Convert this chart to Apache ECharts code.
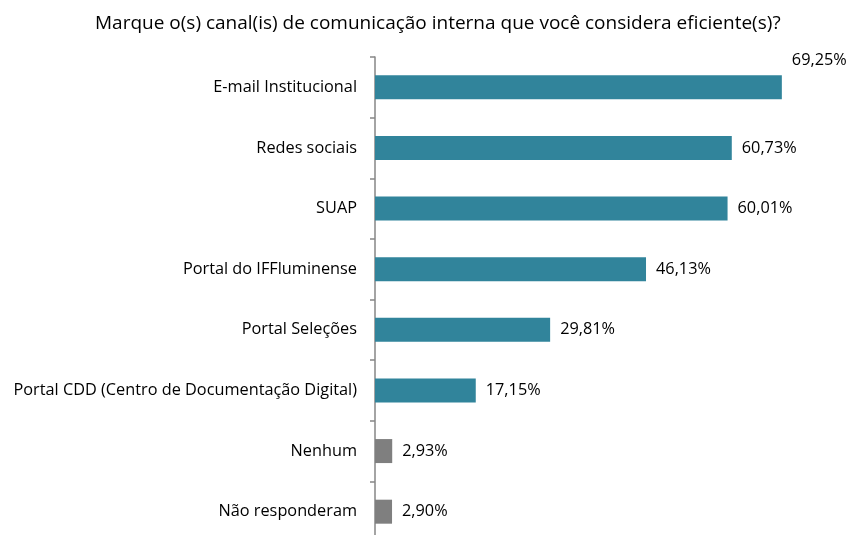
<!DOCTYPE html>
<html><head><meta charset="utf-8">
<script src="https://cdn.jsdelivr.net/npm/echarts@6/dist/echarts.min.js"></script>
<style>html,body{margin:0;padding:0;background:#fff;overflow:hidden}#c{width:850px;height:545px}</style>
</head><body><div id="c"></div>
<script>
const categories = ["E-mail Institucional","Redes sociais","SUAP","Portal do IFFluminense","Portal Seleções","Portal CDD (Centro de Documentação Digital)","Nenhum","Não responderam"];
const values = [69.25,60.73,60.01,46.13,29.81,17.15,2.93,2.90];
const barColors = ["#31849B","#31849B","#31849B","#31849B","#31849B","#31849B","#7F7F7F","#7F7F7F"];
const titleText = "Marque o(s) canal(is) de comunicação interna que você considera eficiente(s)?";
const FONT = "Open Sans";
const chart = echarts.init(document.getElementById('c'), null, {renderer:'canvas'});
chart.setOption({
  animation:false,
  title:{text:titleText,left:90,top:9,textStyle:{fontFamily:FONT,fontSize:19,fontWeight:'normal',color:'#000'}},
  grid:{left:375,top:57,right:5,height:485,containLabel:false},
  xAxis:{type:'value',min:0,max:80,show:false},
  yAxis:{type:'category',inverse:true,data:categories,
    axisLine:{lineStyle:{color:'#868686',width:1.5}},
    axisTick:{show:true,length:5,lineStyle:{color:'#868686',width:1.5}},
    axisLabel:{fontFamily:FONT,fontSize:16.3,color:'#000',margin:18}},
  series:[{type:'bar',barWidth:24,
    data:values.map((v,i)=>({value:v,itemStyle:{color:barColors[i]},
      label: i===0 ? {offset:[0,-27]} : {}})),
    label:{show:true,position:'right',distance:10,fontFamily:FONT,fontSize:16.3,color:'#000',
      formatter:p=>p.value.toFixed(2).replace('.',',')+'%'}}]
});
</script></body></html>
